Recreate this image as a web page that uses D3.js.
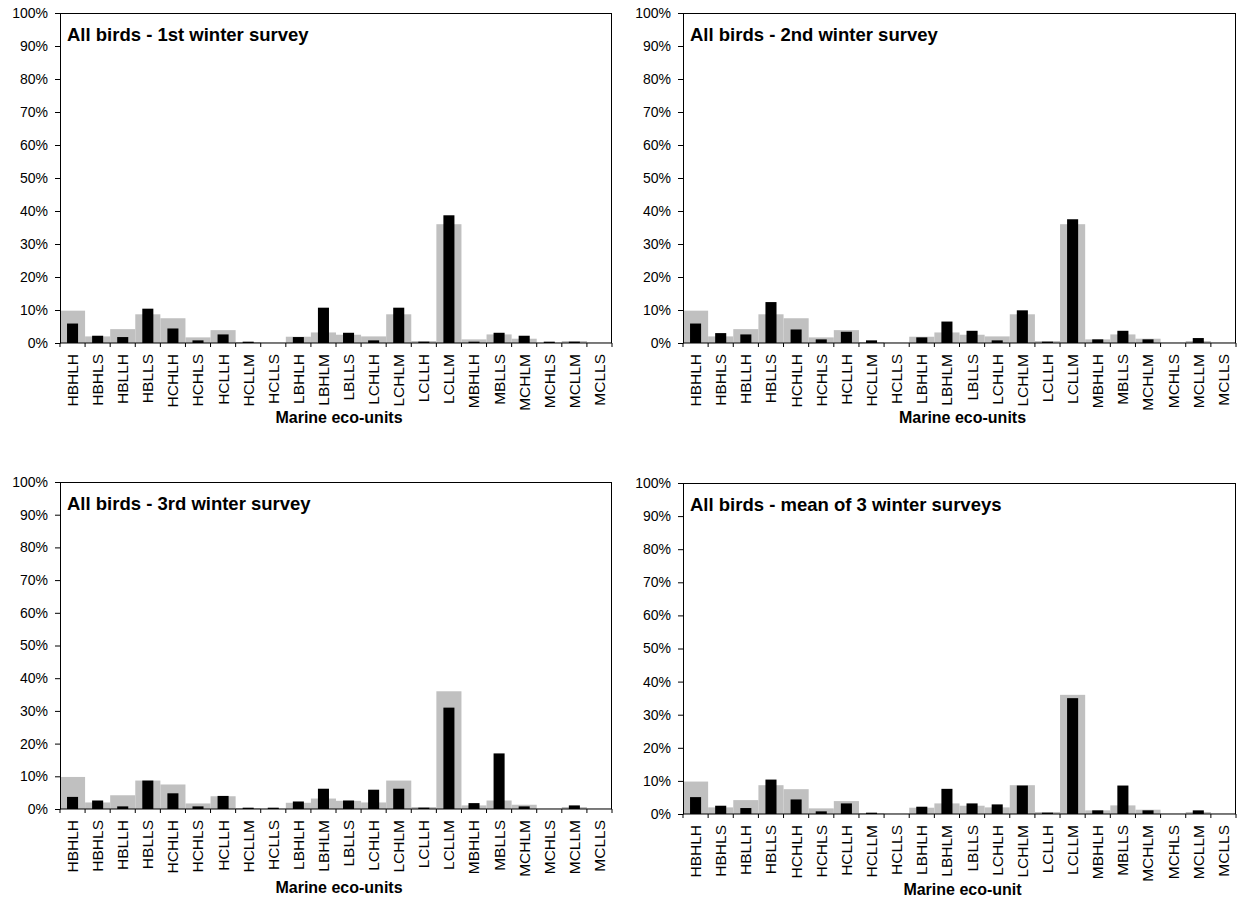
<!DOCTYPE html>
<html>
<head>
<meta charset="utf-8">
<script src="https://cdn.jsdelivr.net/npm/d3@7/dist/d3.min.js"></script>
<style>
  html, body { margin: 0; padding: 0; background: #fff; }
  svg { display: block; font-family: "Liberation Sans", Arial, sans-serif; }
</style>
</head>
<body>
<svg id="chart" width="1238" height="901"></svg>
<script>
// Marine eco-units (x categories)
const categories = ["HBHLH","HBHLS","HBLLH","HBLLS","HCHLH","HCHLS","HCLLH","HCLLM","HCLLS",
  "LBHLH","LBHLM","LBLLS","LCHLH","LCHLM","LCLLH","LCLLM","MBHLH","MBLLS","MCHLM","MCHLS","MCLLM","MCLLS"];

// Share of sea area in each eco-unit (grey bars, %)
const areaShare = [9.8, 2.0, 4.2, 8.7, 7.5, 1.7, 3.9, 0.3, 0.1, 1.9, 3.2, 2.5, 2.0, 8.7, 0.6, 36.0, 1.1, 2.6, 1.3, 0.1, 0.6, 0.1];

// Share of all birds counted in each eco-unit (black bars, %)
const birds1st  = [5.9, 2.2, 1.8, 10.4, 4.4, 0.8, 2.6, 0.4, 0, 1.8, 10.7, 3.1, 0.8, 10.7, 0.4, 38.7, 0.4, 3.1, 2.2, 0.4, 0.4, 0];
const birds2nd  = [5.9, 3.0, 2.6, 12.4, 4.1, 1.1, 3.4, 0.8, 0, 1.7, 6.5, 3.7, 0.8, 9.9, 0.4, 37.5, 1.1, 3.7, 1.1, 0, 1.5, 0];
const birds3rd  = [3.7, 2.6, 0.8, 8.7, 4.8, 0.8, 4.0, 0.4, 0.4, 2.3, 6.2, 2.6, 5.9, 6.2, 0.4, 31.0, 1.8, 17.0, 0.8, 0, 1.1, 0];
const birdsMean = [5.1, 2.5, 1.8, 10.4, 4.4, 0.8, 3.2, 0.4, 0, 2.2, 7.6, 3.2, 2.9, 8.6, 0.4, 35.0, 1.1, 8.6, 1.1, 0, 1.1, 0];

// Percent axis ticks
const yTicks = [0, 10, 20, 30, 40, 50, 60, 70, 80, 90, 100];

const panelTitles = ["All birds - 1st winter survey", "All birds - 2nd winter survey",
  "All birds - 3rd winter survey", "All birds - mean of 3 winter surveys"];
const axisTitles = ["Marine eco-units", "Marine eco-units", "Marine eco-units", "Marine eco-unit"];
const birdSeries = [birds1st, birds2nd, birds3rd, birdsMean];

// Plot-area frames of the four panels (axisGap = baseline offset of the x-axis title)
const frames = [
  { left: 60,  right: 612,  top: 13,  bottom: 343, axisGap: 80 },
  { left: 683, right: 1236, top: 13,  bottom: 343, axisGap: 80 },
  { left: 60,  right: 612,  top: 482, bottom: 809, axisGap: 84 },
  { left: 683, right: 1236, top: 483, bottom: 814, axisGap: 81 }
];

const svg = d3.select("#chart");

frames.forEach((f, i) => {
  const g = svg.append("g");

  const x = d3.scaleBand().domain(categories).range([f.left, f.right]).padding(0);
  const y = d3.scaleLinear().domain([0, 100]).range([f.bottom, f.top]);

  // grey area bars (full category width)
  g.append("g").selectAll("rect")
    .data(categories.map((c, k) => ({ c, v: areaShare[k] })))
    .join("rect")
    .attr("x", d => x(d.c))
    .attr("width", x.bandwidth())
    .attr("y", d => y(d.v))
    .attr("height", d => f.bottom - y(d.v))
    .attr("fill", "#c0c0c0");

  // black bird bars (narrow, centred)
  const bw = x.bandwidth() * 0.44;
  g.append("g").selectAll("rect")
    .data(categories.map((c, k) => ({ c, v: birdSeries[i][k] })).filter(d => d.v > 0))
    .join("rect")
    .attr("x", d => x(d.c) + (x.bandwidth() - bw) / 2)
    .attr("width", bw)
    .attr("y", d => y(d.v))
    .attr("height", d => f.bottom - y(d.v))
    .attr("fill", "#000");

  // y axis
  const yAxis = d3.axisLeft(y).tickValues(yTicks).tickFormat(d => d + "%").tickSize(5).tickSizeOuter(0);
  const ya = g.append("g").attr("transform", `translate(${f.left},0)`).call(yAxis);
  ya.select(".domain").attr("stroke", "#000");
  ya.selectAll(".tick line").attr("stroke", "#000");
  ya.selectAll(".tick text").attr("font-size", 14).attr("fill", "#000")
    .attr("font-family", "Liberation Sans, Arial, sans-serif").attr("x", -12);

  // x axis: tick marks on category boundaries
  const xa = g.append("g");
  xa.append("line").attr("x1", f.left).attr("x2", f.right).attr("y1", f.bottom).attr("y2", f.bottom)
    .attr("stroke", "#000");
  const bounds = categories.map(c => x(c)).concat([f.right]);
  xa.selectAll("line.tk").data(bounds).join("line").attr("class", "tk")
    .attr("x1", d => d).attr("x2", d => d).attr("y1", f.bottom).attr("y2", f.bottom + 4)
    .attr("stroke", "#000");
  xa.selectAll("text").data(categories).join("text")
    .attr("transform", d => `translate(${x(d) + x.bandwidth() / 2},${f.bottom + 11}) rotate(-90)`)
    .attr("text-anchor", "end")
    .attr("dy", "0.35em")
    .attr("font-size", 15.5)
    .text(d => d);

  // frame top and right edges
  g.append("line").attr("x1", f.left).attr("x2", f.right).attr("y1", f.top + 0.5).attr("y2", f.top + 0.5).attr("stroke", "#000");
  g.append("line").attr("x1", f.right - 0.5).attr("x2", f.right - 0.5).attr("y1", f.top).attr("y2", f.bottom).attr("stroke", "#000");

  // panel title
  g.append("text").attr("x", f.left + 7).attr("y", f.top + 28)
    .attr("font-size", 18.5).attr("font-weight", "bold").text(panelTitles[i]);

  // axis title
  g.append("text").attr("x", (f.left + f.right) / 2 + 3).attr("y", f.bottom + f.axisGap)
    .attr("text-anchor", "middle").attr("font-size", 16).attr("font-weight", "bold").text(axisTitles[i]);
});
</script>
</body>
</html>
